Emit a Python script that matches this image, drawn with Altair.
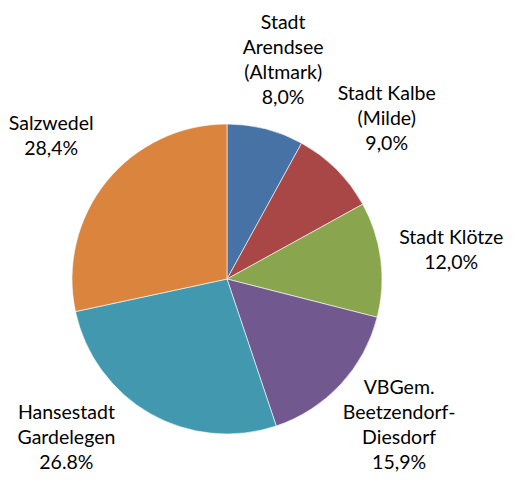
import altair as alt
import pandas as pd

names = [
    "Stadt\nArendsee\n(Altmark)",
    "Stadt Kalbe\n(Milde)",
    "Stadt Klötze",
    "VBGem.\nBeetzendorf-\nDiesdorf",
    "Hansestadt\nGardelegen",
    "Salzwedel",
]
values = [8.0, 9.0, 12.0, 15.9, 26.8, 28.4]
pct_labels = ["8,0%", "9,0%", "12,0%", "15,9%", "26.8%", "28,4%"]
colors = ["#4672A6", "#A84745", "#89A54E", "#71588F", "#4198AF", "#DB843D"]

df = pd.DataFrame({
    "name": names,
    "value": values,
    "order": list(range(len(names))),
    "label": [n + "\n" + p for n, p in zip(names, pct_labels)],
    "nlines": [n.count("\n") + 2 for n in names],
})

W, H = 500, 468
cx, cy = 219, 271
line_h = 25
label_r = 226
last_line_max = 455  # keep label blocks inside the chart area

pie = alt.Chart(df).mark_arc(stroke="#ffffff", strokeWidth=0.6).encode(
    theta=alt.Theta("value:Q", stack=True),
    order=alt.Order("order:Q"),
    color=alt.Color("name:N", scale=alt.Scale(domain=names, range=colors), legend=None),
    radius=alt.value(155),
    x=alt.value(cx),
    y=alt.value(cy),
)

labels = alt.Chart(df).transform_joinaggregate(
    total="sum(value)"
).transform_window(
    cum="sum(value)", sort=[alt.SortField("order")], frame=[None, 0]
).transform_calculate(
    mid="(datum.cum - datum.value / 2) / datum.total * 2 * PI",
    half=f"(datum.nlines - 1) * {line_h} / 2",
).transform_calculate(
    yc=f"min({cy} - {label_r} * cos(datum.mid), {last_line_max} - datum.half)"
).transform_calculate(
    dyc=f"datum.yc - {cy}"
).transform_calculate(
    lx=f"{cx} + (sin(datum.mid) < 0 ? -1 : 1) * sqrt(max({label_r}*{label_r} - datum.dyc*datum.dyc, 0))",
    ly="datum.yc - datum.half",
).mark_text(
    font="Lato", fontSize=19.5, lineBreak="\n", lineHeight=line_h,
    align="center", baseline="middle", color="#000000",
).encode(
    text="label:N",
    x=alt.X("lx:Q", scale=None),
    y=alt.Y("ly:Q", scale=None),
)

chart = (pie + labels).properties(
    width=W, height=H,
    autosize=alt.AutoSizeParams(type="none"),
    padding=0,
).configure_view(stroke=None)

chart.save("out.html", embed_options={"renderer": "svg", "actions": False})
